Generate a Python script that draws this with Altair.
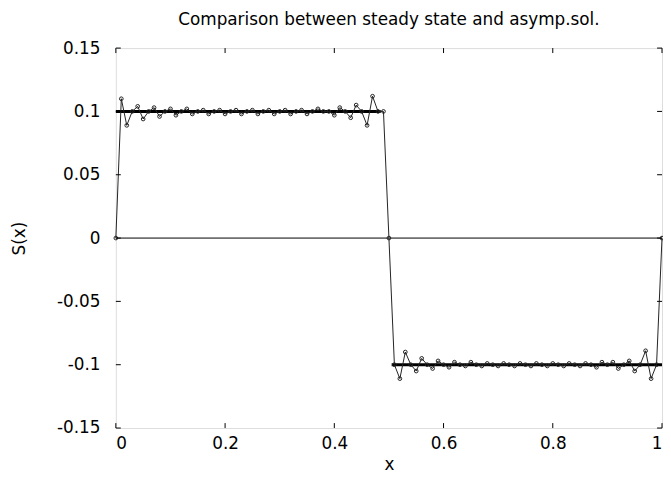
import altair as alt
import pandas as pd

# grid positions (x = i/100)
x_top = [i / 100 for i in range(0, 51)]
s_top = [0.000, 0.110, 0.089, 0.100, 0.104, 0.094, 0.100, 0.103, 0.096, 0.100,
         0.102, 0.097, 0.100, 0.102, 0.098, 0.100, 0.101, 0.098, 0.100, 0.101,
         0.098, 0.100, 0.101, 0.098, 0.100, 0.101, 0.098, 0.100, 0.101, 0.098,
         0.100, 0.101, 0.098, 0.100, 0.101, 0.098, 0.100, 0.102, 0.100, 0.100,
         0.097, 0.103, 0.100, 0.095, 0.105, 0.100, 0.089, 0.112, 0.100, 0.100,
         0.000]
x_bot = [i / 100 for i in range(51, 101)]
s_bot = [-0.100, -0.111, -0.090, -0.100, -0.105, -0.095, -0.100, -0.103, -0.097, -0.100,
         -0.102, -0.098, -0.100, -0.101, -0.098, -0.100, -0.101, -0.099, -0.100, -0.101,
         -0.099, -0.100, -0.101, -0.099, -0.100, -0.101, -0.099, -0.100, -0.101, -0.099,
         -0.100, -0.101, -0.099, -0.100, -0.101, -0.099, -0.100, -0.102, -0.098, -0.100,
         -0.098, -0.103, -0.100, -0.097, -0.105, -0.100, -0.089, -0.111, -0.100, 0.000]

# asymptotic solution segments
asym_x = [0.0, 0.485, 0.505, 1.0]
asym_y = [0.1, 0.1, -0.1, -0.1]
asym_seg = ["a", "a", "b", "b"]

zero_x = [0.0, 1.0]
zero_y = [0.0, 0.0]

x_ticks = [0, 0.2, 0.4, 0.6, 0.8, 1]
y_ticks = [-0.15, -0.1, -0.05, 0, 0.05, 0.1, 0.15]

W, H = 552, 384
FONT = "DejaVu Sans"

steady = pd.DataFrame({"x": x_top + x_bot, "s": s_top + s_bot})
asym = pd.DataFrame({"x": asym_x, "s": asym_y, "seg": asym_seg})
zero = pd.DataFrame({"x": zero_x, "s": zero_y})
xt = pd.DataFrame({"t": x_ticks})
yt = pd.DataFrame({"t": y_ticks})

xscale = alt.Scale(domain=[0, 1], nice=False, zero=False)
yscale = alt.Scale(domain=[-0.15, 0.15], nice=False, zero=False)

xaxis = alt.Axis(values=x_ticks, labelExpr="'' + datum.value", title="x",
                 titleFont=FONT, titleFontSize=17, titleFontWeight="normal",
                 labelFont=FONT, labelFontSize=17, labelPadding=8,
                 titleY=37, titleBaseline="middle",
                 ticks=False, tickSize=0, domain=False, grid=False,
                 labelColor="black", titleColor="black")
yaxis = alt.Axis(values=y_ticks, labelExpr="'' + datum.value", title="S(x)",
                 titleFont=FONT, titleFontSize=17, titleFontWeight="normal",
                 labelFont=FONT, labelFontSize=17, labelPadding=16,
                 titleX=-97, titleY=H / 2, titleBaseline="middle", titleAngle=-90,
                 ticks=False, tickSize=0, domain=False, grid=False,
                 labelColor="black", titleColor="black")

base_x = alt.X("x:Q", scale=xscale, axis=xaxis)
base_y = alt.Y("s:Q", scale=yscale, axis=yaxis)

zero_line = alt.Chart(zero).mark_line(color="black", strokeWidth=1).encode(x=base_x, y=base_y)

asym_line = alt.Chart(asym).mark_line(color="black", strokeWidth=3).encode(
    x=base_x, y=base_y, detail="seg:N")

steady_line = alt.Chart(steady).mark_line(color="#222222", strokeWidth=1).encode(
    x=base_x, y=base_y)
steady_pts = alt.Chart(steady).mark_point(shape="circle", size=14, filled=False,
                                          color="#222222", strokeWidth=1, opacity=1).encode(
    x=base_x, y=base_y)

tick_x_bot = alt.Chart(xt).mark_rule(color="black", strokeWidth=1).encode(
    x=alt.X("t:Q", scale=xscale), y=alt.value(H), y2=alt.value(H - 5))
tick_x_top = alt.Chart(xt).mark_rule(color="black", strokeWidth=1).encode(
    x=alt.X("t:Q", scale=xscale), y=alt.value(0), y2=alt.value(5))
tick_y_left = alt.Chart(yt).mark_rule(color="black", strokeWidth=1).encode(
    y=alt.Y("t:Q", scale=yscale), x=alt.value(0), x2=alt.value(5))
tick_y_right = alt.Chart(yt).mark_rule(color="black", strokeWidth=1).encode(
    y=alt.Y("t:Q", scale=yscale), x=alt.value(W - 5), x2=alt.value(W))

chart = alt.layer(
    zero_line, asym_line, steady_line, steady_pts,
    tick_x_bot, tick_x_top, tick_y_left, tick_y_right
).properties(
    width=W, height=H,
    title=alt.TitleParams("Comparison between steady state and asymp.sol.",
                          font=FONT, fontSize=17, fontWeight="normal",
                          color="black", anchor="middle", offset=0, dy=3,
                          baseline="alphabetic"),
    autosize=alt.AutoSizeParams(type="none"),
    padding={"left": 109, "top": 38, "right": 1, "bottom": 50},
).configure_view(stroke="black", strokeWidth=1).configure(background="white")

chart.save("out.html", embed_options={"renderer": "svg", "actions": False})
